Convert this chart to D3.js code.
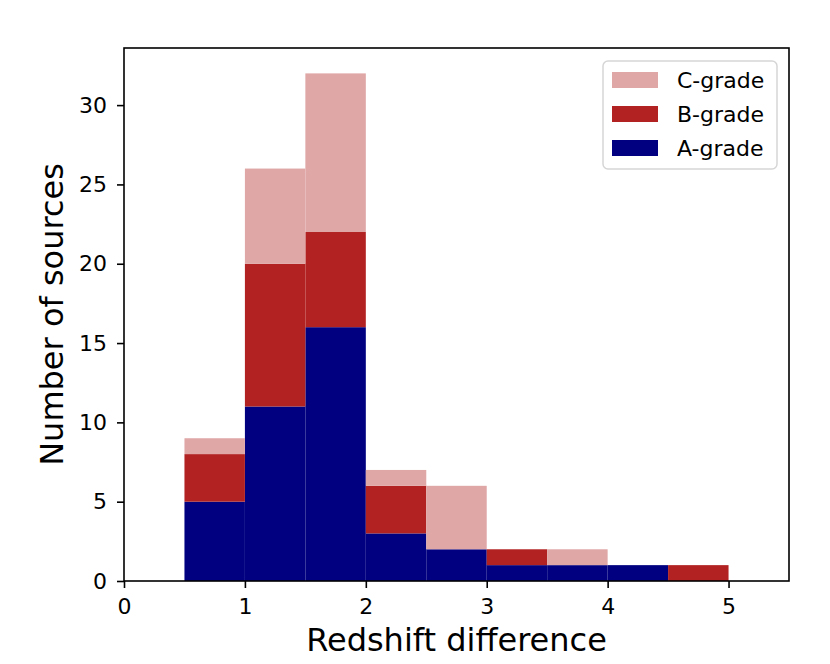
<!DOCTYPE html>
<html>
<head>
<meta charset="utf-8">
<script src="https://cdn.jsdelivr.net/npm/d3@7"></script>
<style>
  body { margin: 0; background: #fff; }
  text { font-family: "DejaVu Sans", sans-serif; }
</style>
</head>
<body>
<div id="chart"></div>
<script>
// bin edges (redshift difference) and counts per grade
const binEdges = [0.5, 1, 1.5, 2, 2.5, 3, 3.5, 4, 4.5, 5];
const gradeA = [5, 11, 16, 3, 2, 1, 1, 1, 0];
const gradeB = [3, 9, 6, 3, 0, 1, 0, 0, 1];
const gradeC = [1, 6, 10, 1, 4, 0, 1, 0, 0];
const grades = ["A-grade", "B-grade", "C-grade"];
const xTicks = [0, 1, 2, 3, 4, 5];
const yTicks = [0, 5, 10, 15, 20, 25, 30];

const colors = { "A-grade": "#000080", "B-grade": "#b22222", "C-grade": "#e0a7a7" };

const margin = { top: 48, right: 41, bottom: 83, left: 124 },
    width = 830 - margin.left - margin.right,
    height = 664 - margin.top - margin.bottom;

const svg = d3.select("#chart").append("svg")
    .attr("width", 830)
    .attr("height", 664);

const g = svg.append("g")
    .attr("transform", "translate(" + margin.left + "," + margin.top + ")");

const x = d3.scaleLinear().domain([0, 5.5]).range([0, width]);
const y = d3.scaleLinear().domain([0, 33.6]).range([height, 0]);

// build the stacked table
const rows = gradeA.map((a, i) => ({
    x0: binEdges[i], x1: binEdges[i + 1],
    "A-grade": a, "B-grade": gradeB[i], "C-grade": gradeC[i]
}));
const stacked = d3.stack().keys(grades)(rows);

g.selectAll(".layer")
    .data(stacked)
    .join("g")
    .attr("fill", d => colors[d.key])
    .selectAll("rect")
    .data(d => d)
    .join("rect")
    .attr("x", d => x(d.data.x0))
    .attr("width", d => x(d.data.x1) - x(d.data.x0))
    .attr("y", d => y(d[1]))
    .attr("height", d => y(d[0]) - y(d[1]));

// axes
const axeX = d3.axisBottom(x).tickValues(xTicks).tickSize(7).tickPadding(10).tickFormat(d3.format("d"));
const axeY = d3.axisLeft(y).tickValues(yTicks).tickSize(7).tickPadding(10).tickFormat(d3.format("d"));

const gx = g.append("g").attr("transform", "translate(0," + height + ")").call(axeX);
const gy = g.append("g").call(axeY);
[gx, gy].forEach(a => {
    a.select(".domain").remove();
    a.selectAll("line").attr("stroke", "#000").attr("stroke-width", 1.6);
    a.selectAll("text").attr("font-size", 22).attr("fill", "#000")
        .style("font-family", "DejaVu Sans, sans-serif");
});

// frame
g.append("rect")
    .attr("width", width).attr("height", height)
    .attr("fill", "none").attr("stroke", "#000").attr("stroke-width", 1.6);

// axis labels
svg.append("text")
    .attr("x", margin.left + width / 2).attr("y", 651)
    .attr("text-anchor", "middle").attr("font-size", 32)
    .text("Redshift difference");
svg.append("text")
    .attr("transform", "translate(63," + (margin.top + height / 2) + ") rotate(-90)")
    .attr("text-anchor", "middle").attr("font-size", 32)
    .text("Number of sources");

// legend (C on top)
const legend = g.append("g").attr("transform", "translate(" + (603 - margin.left) + "," + (61 - margin.top) + ")");
legend.append("rect")
    .attr("width", 174).attr("height", 108).attr("rx", 5)
    .attr("fill", "#fff").attr("fill-opacity", 0.8)
    .attr("stroke", "#d6d6d6").attr("stroke-width", 1.5);
const legendOrder = grades.slice().reverse();
legendOrder.forEach((k, i) => {
    const row = legend.append("g").attr("transform", "translate(9," + (11 + i * 34) + ")");
    row.append("rect").attr("width", 46).attr("height", 16).attr("fill", colors[k]);
    row.append("text").attr("x", 65).attr("y", 8).attr("dy", "0.35em")
        .attr("font-size", 22).text(k);
});
</script>
</body>
</html>
